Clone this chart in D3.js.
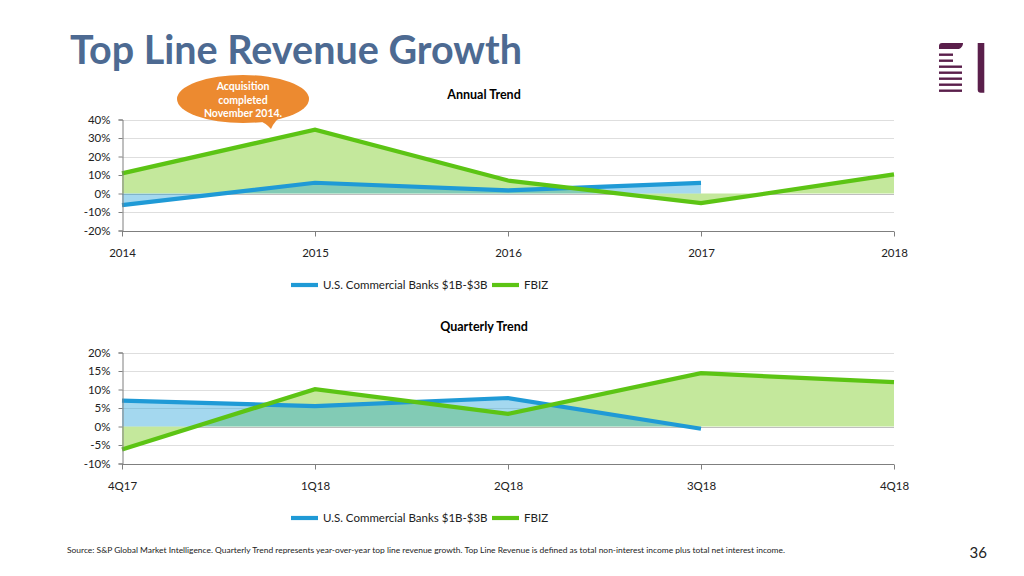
<!DOCTYPE html>
<html>
<head>
<meta charset="utf-8">
<script src="https://cdn.jsdelivr.net/npm/d3@7"></script>
<style>
  html, body { margin: 0; padding: 0; background: #fff; }
  svg { display: block; }
  text { font-family: Lato, "Open Sans", sans-serif; }
</style>
</head>
<body>
<svg id="chart" width="1024" height="576"></svg>
<script>
// ---- data ----
const annualCategories = ["2014", "2015", "2016", "2017", "2018"];
const annualBanks = [-6.3, 5.8, 1.7, 5.7, null];
const annualFBIZ = [10.9, 34.5, 7.0, -5.2, 10.3];
const annualTicks = [-20, -10, 0, 10, 20, 30, 40];

const quarterCategories = ["4Q17", "1Q18", "2Q18", "3Q18", "4Q18"];
const quarterBanks = [7.0, 5.5, 7.7, -0.6, null];
const quarterFBIZ = [-6.2, 10.1, 3.4, 14.4, 12.0];
const quarterTicks = [-10, -5, 0, 5, 10, 15, 20];

const seriesNames = ["U.S. Commercial Banks $1B-$3B", "FBIZ"];

// ---- styles ----
const BLUE_LINE = "#1f9ad6";
const GREEN_LINE = "#5cc414";
const GREEN_FILL = "#c4e89c";
const BLUE_FILL = "#26a2d9";
const BLUE_FILL_OPACITY = 0.42;

const svg = d3.select("#chart");

// Title
const title = svg.append("text")
  .attr("x", 70).attr("y", 64)
  .attr("font-size", 40).attr("font-weight", 700)
  .attr("fill", "#4d6a92")
  .text("Top Line Revenue Growth");
(function fit(t, w) {
  const len = t.node().getComputedTextLength();
  const fs = parseFloat(t.attr("font-size"));
  t.attr("font-size", fs * w / len);
})(title, 452);

// Logo
const logo = svg.append("g").attr("fill", "#5a1f4b");
logo.append("path").attr("d", "M939,49 L939,46 Q939,43 942,43 L963,43 Q963,47 959,49 Z");
[53.5, 59.5].forEach(y => logo.append("rect").attr("x", 939).attr("y", y).attr("width", 14).attr("height", 2.4));
[65.5, 71.5, 77.5, 83.5, 89.5].forEach(y => logo.append("rect").attr("x", 939).attr("y", y).attr("width", 23).attr("height", 2.4));
logo.append("path").attr("d", "M977.7,43 L984.3,43 L984.3,92.7 L980.7,92.7 Q977.7,92.7 977.7,89.7 Z");

function drawChart(opts) {
  const { top, bottom, left, right, cats, banks, fbiz, ticks, titleText, titleY, legendY } = opts;
  const g = svg.append("g");
  const x = d3.scalePoint().domain(cats).range([left, right]);
  const y = d3.scaleLinear().domain([ticks[0], ticks[ticks.length - 1]]).range([bottom, top]);

  // chart title
  g.append("text").attr("x", 484).attr("y", titleY).attr("text-anchor", "middle")
    .attr("font-size", 12.5).attr("font-weight", 700).attr("fill", "#000").text(titleText);

  // gridlines
  g.append("g").selectAll("line").data(ticks.slice(1)).join("line")
    .attr("x1", left).attr("x2", right)
    .attr("y1", d => Math.round(y(d)) + 0.5).attr("y2", d => Math.round(y(d)) + 0.5)
    .attr("stroke", d => d === 0 ? "#bfbfbf" : "#dedede").attr("stroke-width", 1);

  const rows = cats.map((c, i) => ({ c, b: banks[i], f: fbiz[i] }));

  // green area
  g.append("path").datum(rows)
    .attr("d", d3.area().defined(d => d.f != null).x(d => x(d.c)).y0(y(0)).y1(d => y(d.f)))
    .attr("fill", GREEN_FILL);
  // blue area
  g.append("path").datum(rows)
    .attr("d", d3.area().defined(d => d.b != null).x(d => x(d.c)).y0(y(0)).y1(d => y(d.b)))
    .attr("fill", BLUE_FILL).attr("fill-opacity", BLUE_FILL_OPACITY);

  // lines
  g.append("path").datum(rows)
    .attr("d", d3.line().defined(d => d.b != null).x(d => x(d.c)).y(d => y(d.b)))
    .attr("fill", "none").attr("stroke", BLUE_LINE).attr("stroke-width", 4.2);
  g.append("path").datum(rows)
    .attr("d", d3.line().defined(d => d.f != null).x(d => x(d.c)).y(d => y(d.f)))
    .attr("fill", "none").attr("stroke", GREEN_LINE).attr("stroke-width", 4.2);

  // y axis
  const yAxis = g.append("g").attr("transform", `translate(${left + 0.5},0)`)
    .call(d3.axisLeft(y).tickValues(ticks).tickFormat(d => d + "%").tickSize(4).tickPadding(8));
  yAxis.select(".domain").attr("stroke", "#7f7f7f");
  yAxis.selectAll(".tick line").attr("stroke", "#7f7f7f");
  yAxis.selectAll(".tick text").attr("font-size", 11.5).attr("fill", "#222")
    .attr("font-family", "Lato, sans-serif");

  // x axis
  const xAxis = g.append("g").attr("transform", `translate(0,${Math.round(bottom) + 0.5})`)
    .call(d3.axisBottom(x).tickSize(5).tickPadding(12));
  xAxis.select(".domain").attr("stroke", "#7f7f7f").attr("d", `M${left},0H${right}`);
  xAxis.selectAll(".tick line").attr("stroke", "#7f7f7f");
  xAxis.selectAll(".tick text").attr("font-size", 11.5).attr("fill", "#222")
    .attr("font-family", "Lato, sans-serif");

  // legend
  const lg = g.append("g");
  const items = [
    { name: seriesNames[0], color: BLUE_LINE, x: 291 },
    { name: seriesNames[1], color: GREEN_LINE, x: 492 }
  ];
  items.forEach(it => {
    lg.append("line").attr("x1", it.x).attr("x2", it.x + 27)
      .attr("y1", legendY).attr("y2", legendY)
      .attr("stroke", it.color).attr("stroke-width", 4.2);
    lg.append("text").attr("x", it.x + 32).attr("y", legendY + 4)
      .attr("font-size", 11.5).attr("fill", "#222").text(it.name);
  });
}

drawChart({
  top: 119.5, bottom: 230.5, left: 122, right: 894,
  cats: annualCategories, banks: annualBanks, fbiz: annualFBIZ, ticks: annualTicks,
  titleText: "Annual Trend", titleY: 99, legendY: 285
});

drawChart({
  top: 352.5, bottom: 463.5, left: 122, right: 894,
  cats: quarterCategories, banks: quarterBanks, fbiz: quarterFBIZ, ticks: quarterTicks,
  titleText: "Quarterly Trend", titleY: 331, legendY: 518
});

// Callout
const callout = svg.append("g");
callout.append("path")
  .attr("d", "M256,119 Q266,123 271,129 Q274,121 284,114 Z")
  .attr("fill", "#ec8a30");
callout.append("ellipse").attr("cx", 243).attr("cy", 99).attr("rx", 66).attr("ry", 24)
  .attr("fill", "#ec8a30");
const calloutLines = ["Acquisition", "completed", "November 2014."];
calloutLines.forEach((t, i) => {
  callout.append("text").attr("x", 243).attr("y", 90 + i * 13.5)
    .attr("text-anchor", "middle").attr("font-size", 10.5).attr("font-weight", 700)
    .attr("fill", "#fff").text(t);
});

// Footer
const src = svg.append("text").attr("x", 67).attr("y", 553)
  .attr("font-size", 8).attr("fill", "#222")
  .attr("textLength", 718).attr("lengthAdjust", "spacingAndGlyphs")
  .text("Source: S&P Global Market Intelligence. Quarterly Trend represents year-over-year top line revenue growth. Top Line Revenue is defined as total non-interest income plus total net interest income.");
svg.append("text").attr("x", 987).attr("y", 558).attr("text-anchor", "end")
  .attr("font-size", 15).attr("fill", "#222").text("36");
</script>
</body>
</html>
